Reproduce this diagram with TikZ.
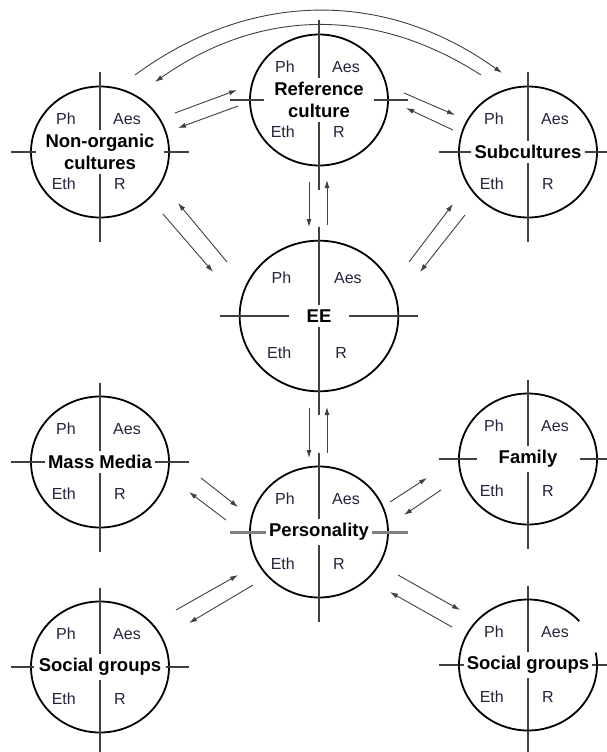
\documentclass[tikz,border=0pt]{standalone}
\usepackage{fontspec}
\setmainfont{Liberation Sans}
\usepackage{tikz}
\usetikzlibrary{arrows.meta}
\usetikzlibrary{shapes.geometric}
\usetikzlibrary{positioning}
\definecolor{qtext}{RGB}{35,35,60}
\tikzstyle{ring}   = [ellipse, draw, line width=1.8pt, outer sep=0pt, inner sep=0pt]
\tikzstyle{title}  = [font=\fontsize{18.5}{22}\selectfont\bfseries, align=center, inner ysep=4pt]
\tikzstyle{quad}   = [font=\fontsize{16}{19}\selectfont, text=qtext, inner sep=0pt]
\tikzstyle{cross}  = [draw, black!75, line width=1.3pt]
\tikzstyle{hcross} = [cross]
\tikzstyle{line}   = [draw, black!75, line width=0.9pt, -{Latex[length=8pt,width=5pt]}]

% #1 size factor, #2 name, #3 placement, #4 gap beside the title, #5 title
\newcommand{\culture}[5][1]{%
  \node[ring, minimum width=#1*138pt, minimum height=#1*131pt, #3] (#2) {};
  \node[title, inner xsep=#4] (#2-t) at (#2.center) {#5};
  \draw[cross] ([yshift=14pt]#2.north) -- (#2-t.north);
  \draw[cross] (#2-t.south) -- ([yshift=-24pt]#2.south);
  \draw[hcross] ([xshift=-20pt]#2.west) -- (#2-t.west);
  \draw[hcross] (#2-t.east) -- ([xshift=20pt]#2.east);
  \node[quad, anchor=east] at ([shift={(-24*#1,-33*#1)}]#2.center) {Ph};
  \node[quad, anchor=west] at ([shift={(13*#1,-33*#1)}]#2.center) {Aes};
  \node[quad, anchor=east] at ([shift={(-24*#1,32*#1)}]#2.center) {Eth};
  \node[quad, anchor=west] at ([shift={(14*#1,32*#1)}]#2.center) {R};
}

\begin{document}
\begin{tikzpicture}[x=1pt, y=-1pt]
	\useasboundingbox (0,0) rectangle (606,752);
	% the nine cultures
	\culture[1.15]{ee}{at={(319,316)}}{17pt}{EE}
	\culture{ref}{above of=ee, node distance=216pt}{10pt}{Reference\\culture}
	\culture{nonorg}{at={(100,152)}}{9pt}{Non-organic\\cultures}
	\culture{sub}{at={(528,152)}}{3pt}{Subcultures}
	\culture{mass}{at={(100,462)}}{3pt}{Mass Media}
	\culture{fam}{at={(528,459)}}{22pt}{Family}
	\culture{socl}{at={(100,667)}}{5pt}{Social groups}
	\begin{scope}[hcross/.style={draw, black!50, line width=3pt}]
		\culture{pers}{below of=ee, node distance=216pt}{3pt}{Personality}
	\end{scope}
	\begin{scope}[ring/.append style={draw=none}]
		\culture{socr}{at={(528,665)}}{3pt}{Social groups}
	\end{scope}
	\draw[line width=1.8pt] (socr.center) ++(42:69pt and 65.5pt) arc[start angle=42, end angle=371, x radius=69pt, y radius=65.5pt];
	% arcs over the top
	\path[line] ([shift={(35,-77)}]nonorg.center) to[bend left=36] ([shift={(-26,-79)}]sub.center);
	\path[line] ([shift={(-47,-77)}]sub.center) to[bend right=34] ([shift={(55,-70)}]nonorg.center);
	% reference culture
	\path[line] ([shift={(75,-39)}]nonorg.center) -- ([shift={(-82,-10)}]ref.center);
	\path[line] ([shift={(-81,6)}]ref.center) -- ([shift={(78,-24)}]nonorg.center);
	\path[line] ([shift={(85,-7)}]ref.center) -- ([shift={(-73,-37)}]sub.center);
	\path[line] ([shift={(-75,-22)}]sub.center) -- ([shift={(87,8)}]ref.center);
	\path[line] ([shift={(-10,82)}]ref.center) -- ([shift={(-10,-89)}]ee.center);
	\path[line] ([shift={(8,-91)}]ee.center) -- ([shift={(8,80)}]ref.center);
	% EE
	\path[line] ([shift={(-92,-54)}]ee.center) -- ([shift={(78,51)}]nonorg.center);
	\path[line] ([shift={(63,62)}]nonorg.center) -- ([shift={(-106,-44)}]ee.center);
	\path[line] ([shift={(90,-54)}]ee.center) -- ([shift={(-75,52)}]sub.center);
	\path[line] ([shift={(-63,63)}]sub.center) -- ([shift={(101,-44)}]ee.center);
	\path[line] ([shift={(-10,92)}]ee.center) -- ([shift={(-10,-74)}]pers.center);
	\path[line] ([shift={(8,-79)}]pers.center) -- ([shift={(8,91)}]ee.center);
	% personality
	\path[line] ([shift={(101,16)}]mass.center) -- ([shift={(-81,-25)}]pers.center);
	\path[line] ([shift={(-93,-12)}]pers.center) -- ([shift={(89,30)}]mass.center);
	\path[line] ([shift={(71,-30)}]pers.center) -- ([shift={(-101,19)}]fam.center);
	\path[line] ([shift={(-87,31)}]fam.center) -- ([shift={(85,-17)}]pers.center);
	\path[line] ([shift={(76,-57)}]socl.center) -- ([shift={(-81,43)}]pers.center);
	\path[line] ([shift={(-66,53)}]pers.center) -- ([shift={(89,-44)}]socl.center);
	\path[line] ([shift={(79,43)}]pers.center) -- ([shift={(-68,-55)}]socr.center);
	\path[line] ([shift={(-76,-38)}]socr.center) -- ([shift={(71,60)}]pers.center);
\end{tikzpicture}
\end{document}
